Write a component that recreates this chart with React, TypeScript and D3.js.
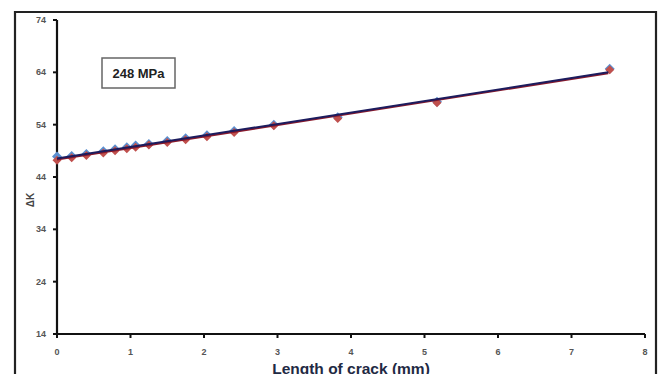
import React from "react";
import * as d3 from "d3";

const crackLength = [0, 0.2, 0.4, 0.63, 0.79, 0.95, 1.07, 1.25, 1.5, 1.75, 2.04, 2.41, 2.95, 3.82, 5.17, 7.52];
const deltaKBlue = [47.9, 48.0, 48.4, 48.9, 49.3, 49.7, 50.0, 50.3, 50.9, 51.4, 52.0, 52.8, 54.0, 55.4, 58.4, 64.7];
const deltaKRed = [47.2, 47.7, 48.1, 48.6, 49.0, 49.4, 49.7, 50.1, 50.6, 51.1, 51.7, 52.5, 53.8, 55.2, 58.2, 64.5];
const trendX = [0, 7.5];
const trendBlue = [47.55, 64.0];
const trendRed = [47.35, 63.85];
const xTicks = [0, 1, 2, 3, 4, 5, 6, 7, 8];
const yTicks = [14, 24, 34, 44, 54, 64, 74];

const W = 662, H = 374;
const x = d3.scaleLinear().domain([0, 8]).range([57, 645]);
const y = d3.scaleLinear().domain([14, 74]).range([334, 20]);

function diamond(cx: number, cy: number, r: number) {
  return `M${cx},${cy - r}L${cx + r},${cy}L${cx},${cy + r}L${cx - r},${cy}Z`;
}

export default function App() {
  const line = d3.line<[number, number]>().x((d) => x(d[0])).y((d) => y(d[1]));
  const tickFont = { fontFamily: "'Liberation Sans', Arial, sans-serif", fontWeight: 700, fontSize: 9, fill: "#555" } as const;
  return (
    <svg width={W} height={H} style={{ position: "absolute", left: 0, top: 0, background: "#fff" }}>
      <rect x={0} y={0} width={W} height={H} fill="#fff" />
      {/* outer frame */}
      <path d={`M15,${H + 5}V12H656V${H + 5}`} fill="none" stroke="#222" strokeWidth={2.2} />
      {/* label box */}
      <rect x={102} y={58} width={73} height={30} fill="#fff" stroke="#666" strokeWidth={1.5} />
      <text x={138.5} y={77.5} textAnchor="middle" style={{ fontFamily: "'Liberation Sans', Arial, sans-serif", fontWeight: 700, fontSize: 13, fill: "#222" }}>248 MPa</text>
      {/* axes */}
      <line x1={x(0)} x2={x(0)} y1={y(74)} y2={y(14)} stroke="#111" strokeWidth={2.2} />
      <line x1={x(0)} x2={x(8)} y1={y(14)} y2={y(14)} stroke="#111" strokeWidth={2.2} />
      {yTicks.map((t) => (
        <g key={"y" + t}>
          <line x1={x(0) - 4} x2={x(0)} y1={y(t)} y2={y(t)} stroke="#111" strokeWidth={2} />
          <text x={46} y={y(t) + 3} textAnchor="end" style={tickFont}>{t}</text>
        </g>
      ))}
      {xTicks.map((t) => (
        <g key={"x" + t}>
          <line x1={x(t)} x2={x(t)} y1={y(14)} y2={y(14) + 4} stroke="#111" strokeWidth={2} />
          <text x={x(t)} y={355} textAnchor="middle" style={tickFont}>{t}</text>
        </g>
      ))}
      <text x={351} y={374} textAnchor="middle" style={{ fontFamily: "'Liberation Sans', Arial, sans-serif", fontWeight: 700, fontSize: 15.5, fill: "#1f2a44" }}>Length of crack (mm)</text>
      <text transform="translate(34,200) rotate(-90)" textAnchor="middle" style={{ fontFamily: "'Liberation Sans', Arial, sans-serif", fontWeight: 700, fontSize: 10, fill: "#444" }}>ΔK</text>
      {/* markers */}
      {crackLength.map((c, i) => (
        <path key={"b" + i} d={diamond(x(c), y(deltaKBlue[i]), 5)} fill="#5b8fd0" />
      ))}
      {crackLength.map((c, i) => (
        <path key={"r" + i} d={diamond(x(c), y(deltaKRed[i]), 4.5)} fill="#c0504d" />
      ))}
      {/* trend lines */}
      <path d={line(trendX.map((t, i) => [t, trendRed[i]] as [number, number])) || ""} fill="none" stroke="#8b1a2b" strokeWidth={2.2} />
      <path d={line(trendX.map((t, i) => [t, trendBlue[i]] as [number, number])) || ""} fill="none" stroke="#1c1c5e" strokeWidth={2} />
    </svg>
  );
}
